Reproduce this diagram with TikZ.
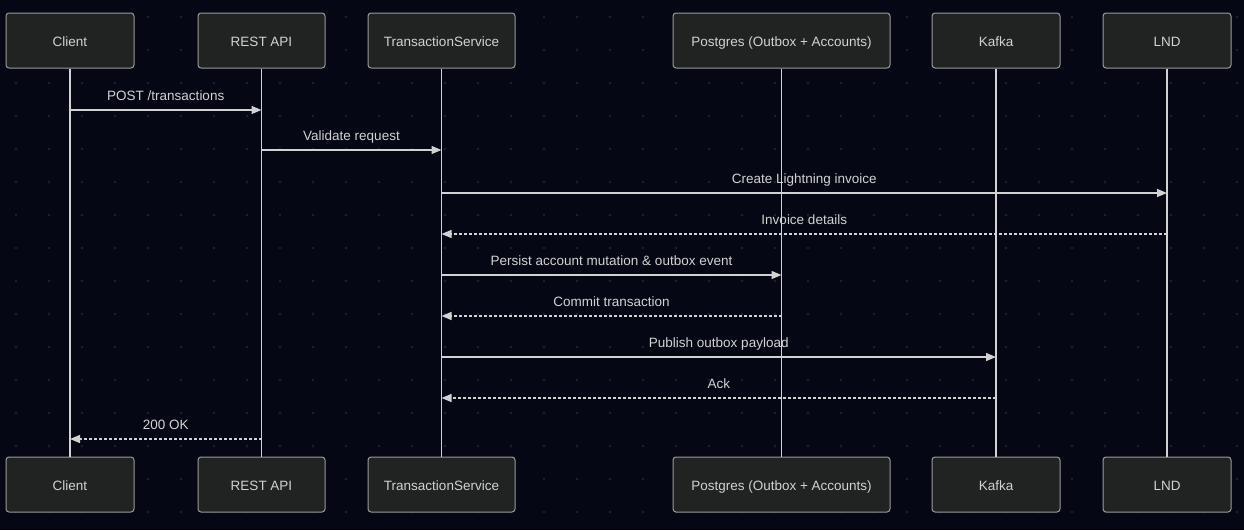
\documentclass[tikz,border=0pt]{standalone}
\usepackage{fontspec}
\setmainfont{Liberation Sans}
\usetikzlibrary{arrows.meta}
\definecolor{bgnavy}{HTML}{050814}
\definecolor{griddot}{HTML}{1E222D}
\definecolor{boxfill}{HTML}{212222}
\definecolor{boxline}{HTML}{9A9A9A}
\definecolor{inkgray}{HTML}{D2D2D2}
\tikzset{
  actor/.style={draw=boxline, fill=boxfill, rounded corners=3pt, line width=1pt, text=inkgray, font=\fontsize{13.5}{16}\selectfont, minimum height=55pt, inner sep=0pt, text height=11pt, text depth=0pt},
  lifeline/.style={draw=inkgray, line width=1.4pt},
  msg/.style={draw=inkgray, line width=1.3pt, -{Triangle[length=10pt,width=8pt]}},
  reply/.style={msg, dash pattern=on 3pt off 2pt},
  msglabel/.style={text=inkgray, font=\fontsize{13.5}{16}\selectfont, anchor=base, yshift=10pt, inner sep=0pt}
}
\begin{document}
\begin{tikzpicture}[x=1pt,y=-1pt]
\fill[bgnavy] (0,0) rectangle (1244,530);
\useasboundingbox (0,0) rectangle (1244,530);
\foreach \x in {16,49,...,1243}
  \foreach \y in {17,50,...,529}
    \fill[griddot] (\x,\y) circle (1.3pt);
\node[actor, minimum width=128pt] (client) at (70,40.5) {Client};
\node[actor, minimum width=127pt] (api) at (261.5,40.5) {REST API};
\node[actor, minimum width=147pt] (txsvc) at (441.5,40.5) {TransactionService};
\node[actor, minimum width=217pt] (pg) at (781.5,40.5) {Postgres (Outbox + Accounts)};
\node[actor, minimum width=128pt] (kafka) at (996,40.5) {Kafka};
\node[actor, minimum width=128pt] (lnd) at (1167,40.5) {LND};
\node[actor, minimum width=128pt] (clientB) at (70,484.5) {Client};
\node[actor, minimum width=127pt] (apiB) at (261.5,484.5) {REST API};
\node[actor, minimum width=147pt] (txsvcB) at (441.5,484.5) {TransactionService};
\node[actor, minimum width=217pt] (pgB) at (781.5,484.5) {Postgres (Outbox + Accounts)};
\node[actor, minimum width=128pt] (kafkaB) at (996,484.5) {Kafka};
\node[actor, minimum width=128pt] (lndB) at (1167,484.5) {LND};
\draw[lifeline] (client) -- (clientB);
\draw[lifeline] (api) -- (apiB);
\draw[lifeline] (txsvc) -- (txsvcB);
\draw[lifeline] (pg) -- (pgB);
\draw[lifeline] (kafka) -- (kafkaB);
\draw[lifeline] (lnd) -- (lndB);
\draw[msg] (client |- 0,110) -- node[msglabel] {POST /transactions} (api |- 0,110);
\draw[msg] (api |- 0,150) -- node[msglabel] {Validate request} (txsvc |- 0,150);
\draw[msg] (txsvc |- 0,193) -- node[msglabel] {Create Lightning invoice} (lnd |- 0,193);
\draw[reply] (lnd |- 0,234) -- node[msglabel] {Invoice details} (txsvc |- 0,234);
\draw[msg] (txsvc |- 0,275) -- node[msglabel] {Persist account mutation \& outbox event} (pg |- 0,275);
\draw[reply] (pg |- 0,316) -- node[msglabel] {Commit transaction} (txsvc |- 0,316);
\draw[msg] (txsvc |- 0,357) -- node[msglabel] {Publish outbox payload} (kafka |- 0,357);
\draw[reply] (kafka |- 0,398) -- node[msglabel] {Ack} (txsvc |- 0,398);
\draw[reply] (api |- 0,439) -- node[msglabel] {200 OK} (client |- 0,439);
\end{tikzpicture}
\end{document}
